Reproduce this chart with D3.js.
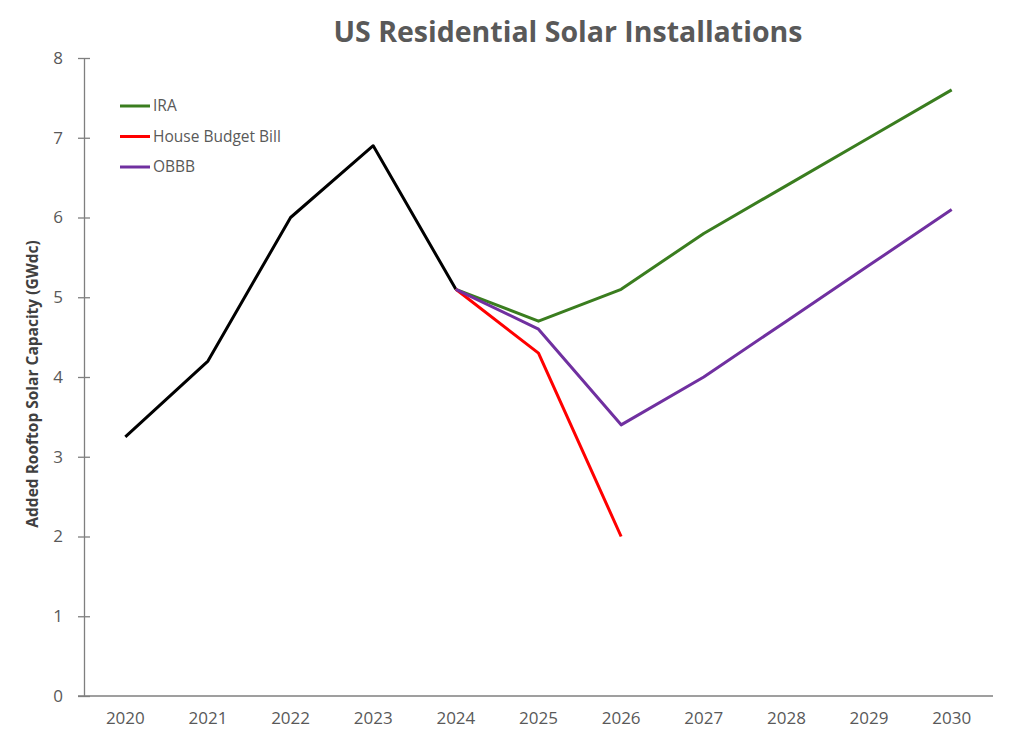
<!DOCTYPE html>
<html>
<head>
<meta charset="utf-8">
<script src="https://cdn.jsdelivr.net/npm/d3@7"></script>
<style>
body { margin: 0; background: #fff; }
text { font-family: "Open Sans", "Noto Sans", sans-serif; }
</style>
</head>
<body>
<div id="chart"></div>
<script>
var years = ["2020","2021","2022","2023","2024","2025","2026","2027","2028","2029","2030"];
var historical = [3.25, 4.2, 6.0, 6.9, 5.1, null, null, null, null, null, null];
var ira = [null, null, null, null, 5.1, 4.7, 5.1, 5.8, 6.4, 7.0, 7.6];
var houseBill = [null, null, null, null, 5.1, 4.3, 2.0, null, null, null, null];
var obbb = [null, null, null, null, 5.1, 4.6, 3.4, 4.0, 4.7, 5.4, 6.1];
var yTicks = [0, 1, 2, 3, 4, 5, 6, 7, 8];

var series = [
  {name: "hist", values: historical, color: "#000000"},
  {name: "IRA", values: ira, color: "#3a7d1f"},
  {name: "House Budget Bill", values: houseBill, color: "#ff0000"},
  {name: "OBBB", values: obbb, color: "#7030a0"}
];

var width = 1024, height = 744;
var margin = {top: 58, right: 31, bottom: 48, left: 84};

var svg = d3.select("#chart").append("svg")
    .attr("width", width)
    .attr("height", height);

var x = d3.scaleBand().domain(years)
    .range([margin.left, width - margin.right]);
var y = d3.scaleLinear().domain([0, 8])
    .range([height - margin.bottom, margin.top]);

// title
svg.append("text")
    .attr("x", 568).attr("y", 42)
    .attr("text-anchor", "middle")
    .style("font-size", "28.5px")
    .style("font-weight", "bold")
    .style("fill", "#595959")
    .text("US Residential Solar Installations");

// y axis
var yAxis = svg.append("g")
    .attr("transform", "translate(" + margin.left + ",0)")
    .call(d3.axisLeft(y).tickValues(yTicks).tickSizeInner(6).tickSizeOuter(0).tickPadding(15));
yAxis.selectAll(".tick line").attr("x2", 6).attr("x1", -6);
yAxis.selectAll("line, path").attr("stroke", "#7f7f7f").attr("stroke-width", 1.3);
yAxis.selectAll("text").style("font-size", "17px").style("fill", "#595959")
    .style("font-family", "'Open Sans', sans-serif");

// x axis
var xAxis = svg.append("g")
    .attr("transform", "translate(0," + (height - margin.bottom) + ")")
    .call(d3.axisBottom(x).tickSize(0).tickPadding(16));
xAxis.select(".domain").attr("stroke", "#7f7f7f").attr("stroke-width", 1.3)
    .attr("d", "M" + (margin.left - 6) + ",0H" + (width - margin.right));
xAxis.selectAll("text").style("font-size", "17px").style("fill", "#595959")
    .style("font-family", "'Open Sans', sans-serif");

// y axis title
svg.append("text")
    .attr("transform", "translate(38,384) rotate(-90)")
    .attr("text-anchor", "middle")
    .style("font-size", "15.5px")
    .style("font-weight", "bold")
    .style("fill", "#404040")
    .text("Added Rooftop Solar  Capacity (GWdc)");

var line = d3.line()
    .defined(function(d) { return d != null; })
    .x(function(d, i) { return x(years[i]) + x.bandwidth() / 2; })
    .y(function(d) { return y(d); });

svg.selectAll(".series")
    .data(series).enter()
    .append("path")
    .attr("class", "series")
    .attr("fill", "none")
    .attr("stroke", function(d) { return d.color; })
    .attr("stroke-width", 3)
    .attr("stroke-linejoin", "round")
    .attr("d", function(d) { return line(d.values); });

// legend
var legend = svg.selectAll(".legend")
    .data(series.slice(1)).enter()
    .append("g")
    .attr("class", "legend")
    .attr("transform", function(d, i) { return "translate(120," + (106 + i * 30.5) + ")"; });
legend.append("line")
    .attr("x1", 0).attr("x2", 30)
    .attr("stroke", function(d) { return d.color; })
    .attr("stroke-width", 3);
legend.append("text")
    .attr("x", 33).attr("dy", "0.35em")
    .style("font-size", "15.5px")
    .style("fill", "#595959")
    .text(function(d) { return d.name; });
</script>
</body>
</html>
